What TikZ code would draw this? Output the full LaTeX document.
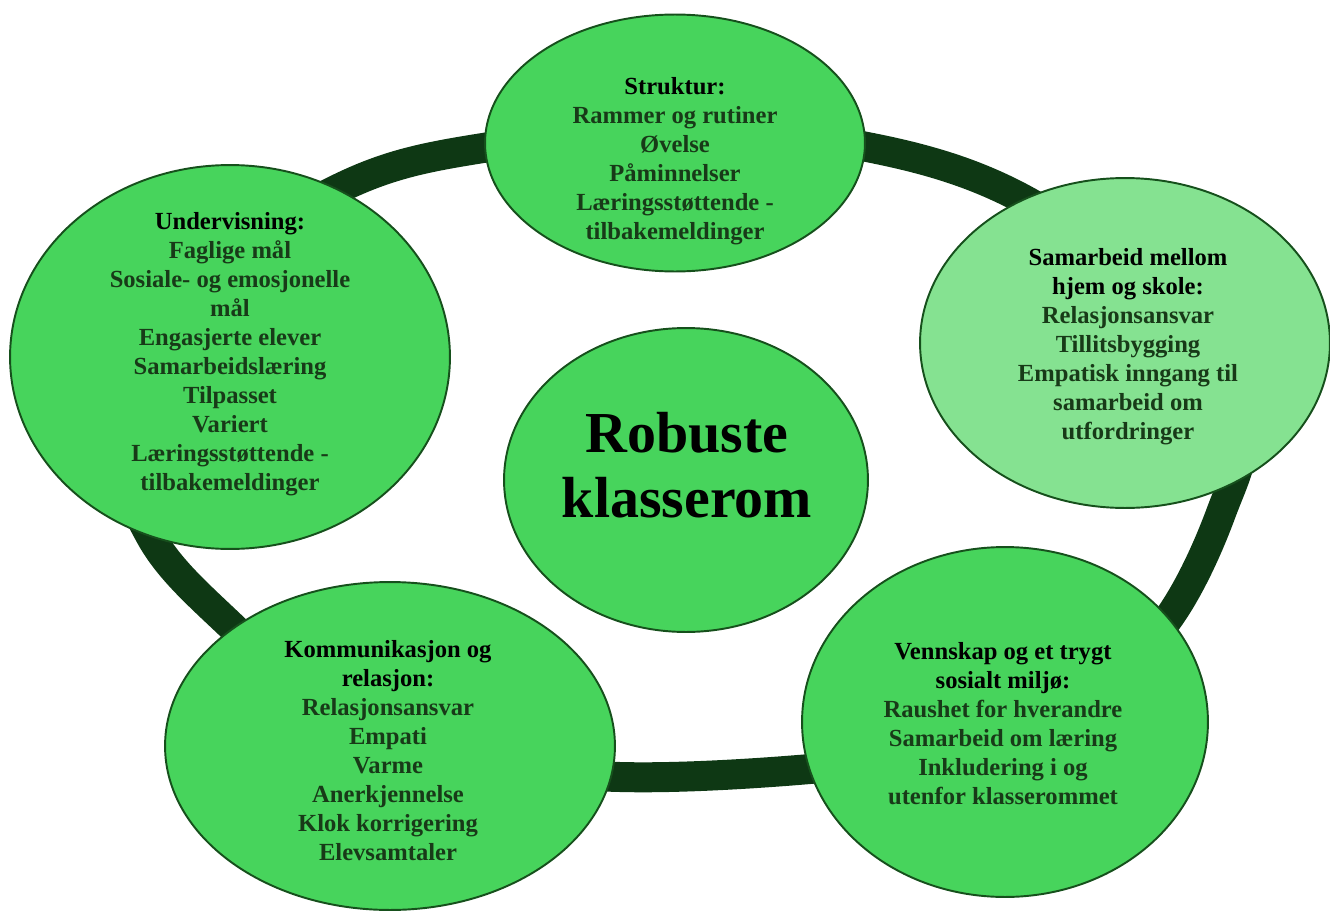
\documentclass[tikz,border=0pt]{standalone}
\usepackage{fontspec}
\setmainfont{Liberation Serif}
\usetikzlibrary{shapes.geometric, positioning}
\definecolor{RingGreen}{RGB}{14,56,20}
\definecolor{BubbleGreen}{RGB}{71,212,92}
\definecolor{PaleGreen}{RGB}{133,226,145}
\definecolor{EdgeGreen}{RGB}{22,80,28}
\definecolor{ItemGreen}{RGB}{24,58,24}
\newcommand{\bubblehead}[1]{\textcolor{black}{#1}}

\begin{document}
\begin{tikzpicture}[x=0.02cm, y=-0.02cm,
            bubble/.style={ellipse, draw=EdgeGreen, line width=1.1pt,
                           fill=BubbleGreen, inner sep=0pt},
            txt/.style={align=center, text=ItemGreen,
                        font=\fontsize{14}{16.5}\selectfont\bfseries}
          ]
          \useasboundingbox (0,0) rectangle (1330,913);

          % Ring behind the bubbles
          \draw[RingGreen, line width=0.6cm] plot[smooth cycle, tension=0.6] coordinates {
                (686,133) (867,147) (1023,199) (1170,310) (1240,420)
                (1221,513) (1165,623) (1080,700) (960,748) (810,769)
                (620,777) (470,760) (330,705) (225,620) (150,535) (122,430)
                (190,290) (340,188) (483,148)};

          % Top
          \node[bubble, minimum width=7.6cm, minimum height=5.14cm]
                (struktur) at (675,143) {};
          \node[txt] (strukturtext) at (675,161)
                {\bubblehead{Struktur:}\\Rammer og rutiner\\Øvelse\\Påminnelser\\
                 Læringsstøttende -\\tilbakemeldinger};

          % Right
          \node[bubble, fill=PaleGreen, minimum width=8.2cm, minimum height=6.6cm]
                (hjem) at (1125,343) {};
          \node[txt] (hjemtext) at (1128,347)
                {\bubblehead{Samarbeid mellom}\\\bubblehead{hjem og skole:}\\
                 Relasjonsansvar\\Tillitsbygging\\Empatisk inngang til\\
                 samarbeid om\\utfordringer};

          % Left
          \node[bubble, minimum width=8.8cm, minimum height=7.68cm]
                (undervisning) at (230,357) {};
          \node[txt] (undervisningtext) at (230,354)
                {\bubblehead{Undervisning:}\\Faglige mål\\Sosiale- og emosjonelle\\mål\\
                 Engasjerte elever\\Samarbeidslæring\\Tilpasset\\Variert\\
                 Læringsstøttende -\\tilbakemeldinger};

          % Bottom left
          \node[bubble, minimum width=9cm, minimum height=6.56cm]
                (relasjon) at (390,746) {};
          \node[txt] (relasjontext) at (388,751)
                {\bubblehead{Kommunikasjon og}\\\bubblehead{relasjon:}\\
                 Relasjonsansvar\\Empati\\Varme\\Anerkjennelse\\
                 Klok korrigering\\Elevsamtaler};

          % Bottom right
          \node[bubble, minimum width=8.12cm, minimum height=7cm]
                (vennskap) at (1005,722) {};
          \node[txt] (vennskaptext) at (1003,724)
                {\bubblehead{Vennskap og et trygt}\\\bubblehead{sosialt miljø:}\\
                 Raushet for hverandre\\Samarbeid om læring\\Inkludering i og\\
                 utenfor klasserommet};

          % Centre
          \node[bubble, minimum width=7.28cm, minimum height=6.08cm]
                (robuste) at (686,480) {};
          \node[txt, text=black, font=\fontsize{33}{37}\selectfont\bfseries]
                (robustetext) at (687,465) {Robuste\\klasserom};
        \end{tikzpicture}
\end{document}
